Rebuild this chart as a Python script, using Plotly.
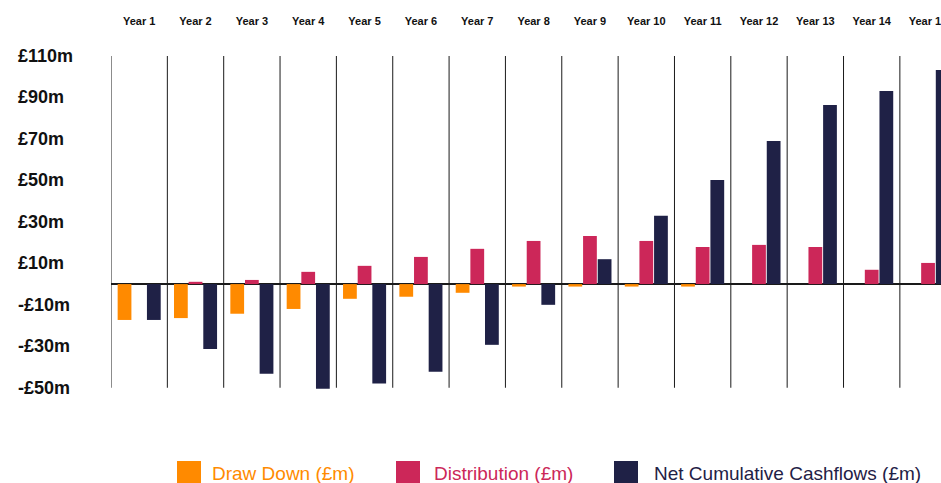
import plotly.graph_objects as go

# Fund cashflow profile over a 15-year life (£m)
years = [f"Year {i}" for i in range(1, 16)]
draw_down = [-17.3, -16.4, -14.3, -12.0, -7.1, -6.1, -4.2, -1.2, -1.2, -1.2, -1.2, 0, 0, 0, 0]
distribution = [0, 1.1, 2.0, 5.9, 8.8, 13.1, 17.0, 20.8, 23.2, 20.8, 17.9, 18.9, 17.9, 6.9, 10.2]
net_cumulative = [-17.3, -31.3, -43.3, -50.5, -48.0, -42.3, -29.3, -10.0, 12.0, 32.9,
                  50.2, 69.0, 86.4, 93.1, 103.3]

y_ticks = [110, 90, 70, 50, 30, 10, -10, -30, -50]
y_tick_text = ["£110m", "£90m", "£70m", "£50m", "£30m", "£10m", "-£10m", "-£30m", "-£50m"]

series_names = ["Draw Down (£m)", "Distribution (£m)", "Net Cumulative Cashflows (£m)"]
series_colors = ["#FF8A00", "#CC2759", "#1F2146"]

FONT = "Liberation Sans, Arial, Helvetica, sans-serif"
W, H = 941, 483
ML, MR, MT, MB = 111, 0, 56, 94
PW, PH = W - ML - MR, H - MT - MB


def paper_x(px):
    return (px - ML) / PW


def paper_y(py):
    return (H - MB - py) / PH


x_pos = list(range(len(years)))

fig = go.Figure()
for name, vals, col in zip(series_names, [draw_down, distribution, net_cumulative], series_colors):
    fig.add_trace(go.Bar(x=x_pos, y=vals, name=name, marker=dict(color=col, line=dict(width=0)),
                         showlegend=False))

# Category separators
shapes = []
for i in range(len(years)):
    shapes.append(dict(type="line", xref="x", yref="y", x0=i - 0.5, x1=i - 0.5, y0=-50, y1=110,
                       line=dict(color="#1a1a1a", width=1), layer="below"))

# Legend swatches and labels
legend_left = [177, 396, 614]
legend_text_left = [210, 432, 652]
annotations = []
for name, col, sx, tx in zip(series_names, series_colors, legend_left, legend_text_left):
    shapes.append(dict(type="rect", xref="paper", yref="paper",
                       x0=paper_x(sx), x1=paper_x(sx + 24), y0=paper_y(485), y1=paper_y(461),
                       fillcolor=col, line=dict(width=0)))
    annotations.append(dict(xref="paper", yref="paper", x=paper_x(tx), y=paper_y(474),
                            xanchor="left", yanchor="middle", text=name, showarrow=False,
                            font=dict(family=FONT, size=19, color=col)))

# Left-aligned value labels on the y scale
for v, t in zip(y_ticks, y_tick_text):
    annotations.append(dict(xref="paper", yref="y", x=paper_x(16), y=v, xanchor="left",
                            yanchor="middle", text=t, showarrow=False,
                            font=dict(family=FONT, size=18, color="#111111", weight="bold")))

fig.update_layout(
    width=W, height=H,
    margin=dict(l=ML, r=MR, t=MT, b=MB, pad=0, autoexpand=False),
    paper_bgcolor="white", plot_bgcolor="white",
    barmode="group", bargap=0.22, bargroupgap=0.06,
    shapes=shapes, annotations=annotations,
    xaxis=dict(side="top", tickmode="array", tickvals=x_pos, ticktext=years,
               range=[-0.5, 14.23], showgrid=False, zeroline=False, showline=False,
               automargin=False, ticks="", ticklabelstandoff=28, ticklabeloverflow="allow",
               tickfont=dict(family=FONT, size=11, color="#111111", weight="bold")),
    yaxis=dict(range=[-50.6, 110], showgrid=False, showticklabels=False, ticks="",
               automargin=False,
               zeroline=True, zerolinecolor="#1a1a1a", zerolinewidth=1.6, showline=False),
)

# The last column runs off the right edge: clip it to the figure box
clip_js = (
    "var gd = document.getElementById('{plot_id}');"
    "gd.style.overflow = 'hidden';"
    "gd.querySelectorAll('.svg-container, .main-svg').forEach(function (el) {"
    "  el.style.overflow = 'hidden'; });"
    "document.body.style.margin = '0';"
    "document.body.style.overflow = 'hidden';"
)

fig.write_html("out.html", post_script=clip_js)
